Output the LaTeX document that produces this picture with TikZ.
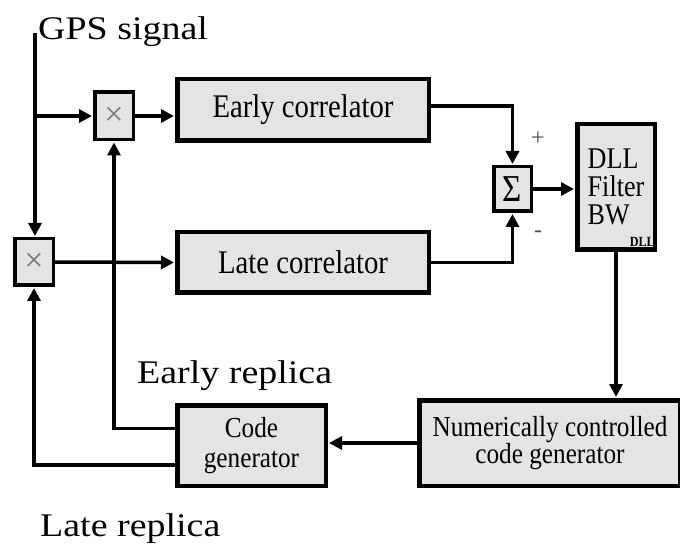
\documentclass[tikz,border=0pt]{standalone}
\usepackage{fontspec}
\setmainfont{Liberation Serif}
\newfontfamily\condfont[FakeStretch=0.87]{Liberation Serif}
\newfontfamily\widefont[FakeStretch=1.15]{Liberation Serif}
\usetikzlibrary{arrows.meta}
\definecolor{boxgray}{RGB}{228,228,228}
\definecolor{symgray}{RGB}{120,120,120}
\begin{document}
\begin{tikzpicture}[x=1pt,y=-1pt,
  blk/.style={draw, line width=4.5pt, fill=boxgray, inner sep=0pt, align=center,
    font=\condfont\fontsize{33}{36}\selectfont},
  opbox/.style={draw, line width=3.5pt, fill=boxgray, inner sep=0pt},
  conn/.style={line width=3.5pt},
  arr/.style={conn, -{Triangle[length=13pt,width=13pt]}, shorten >=1pt},
  lbl/.style={inner sep=0pt, anchor=base west, font=\widefont\fontsize{33}{36}\selectfont},
  sign/.style={inner sep=0pt, text=black!70, font=\fontsize{24}{24}\selectfont}]
\useasboundingbox (0,0) rectangle (680,545);

% blocks
\node[blk, minimum width=251.5, minimum height=61.5] (early) at (303,110) {Early correlator};
\node[blk, minimum width=251.5, minimum height=60.5] (late) at (303,262.5) {Late correlator};
\node[opbox, minimum width=38.5, minimum height=47.5,
      font=\fontsize{34}{34}\selectfont, text=symgray] (mult1) at (114,116) {×};
\node[opbox, minimum width=38.5, minimum height=46.5,
      font=\fontsize{34}{34}\selectfont, text=symgray] (mult2) at (34,262) {×};
\node[opbox, minimum width=37.5, minimum height=44.5,
      font=\condfont\fontsize{38}{38}\selectfont] (sum) at (512.5,189) {Σ};
\node[blk, minimum width=77.5, minimum height=125.5, align=left,
      font=\condfont\fontsize{30}{28}\selectfont] (dll) at (616,187) {DLL\\Filter\\BW};
\node[inner sep=0pt, anchor=base east, font=\condfont\bfseries\fontsize{14}{14}\selectfont]
      (dllsub) at (655,247) {DLL};
\node[blk, minimum width=261, minimum height=85.5,
      font=\condfont\fontsize{29}{26}\selectfont] (nco) at (550,443) {Numerically controlled\\code generator};
\node[blk, minimum width=148.5, minimum height=80.5,
      font=\condfont\fontsize{29}{30}\selectfont] (codegen) at (251.5,445.5) {Code\\generator};

% labels
\node[lbl] (gpslbl) at (38,40) {GPS signal};
\node[lbl] (erlbl) at (137,383) {Early replica};
\node[lbl] (lrlbl) at (40,536) {Late replica};
\node[sign] (plus) at (538,139) {+};
\node[sign] (minus) at (538,234) {-};

% connection points
\coordinate (gps) at (35,33);
\coordinate (tap) at (35,116);
\coordinate (erout) at ([yshift=17pt]codegen.west);
\coordinate (lrout) at ([yshift=-19.5pt]codegen.west);

% connectors
\draw[arr] (gps) -- (gps |- mult2.north);
\draw[arr] (tap) -- (mult1.west);
\draw[arr] (mult1.east) -- (mult1.east -| early.west);
\draw[arr] (mult2.east) -- (late.west);
\draw[arr] ([yshift=4pt]early.east) -| (sum.north);
\draw[arr] (late.east) -| (sum.south);
\draw[arr] (sum.east) -- (sum.east -| dll.west);
\draw[arr] (dll.south) -- (dll.south |- nco.north);
\draw[arr] (nco.west) -- (nco.west -| codegen.east);
\draw[arr] (erout) -| (mult1.south);
\draw[arr] (lrout) -| (mult2.south);
\end{tikzpicture}
\end{document}
